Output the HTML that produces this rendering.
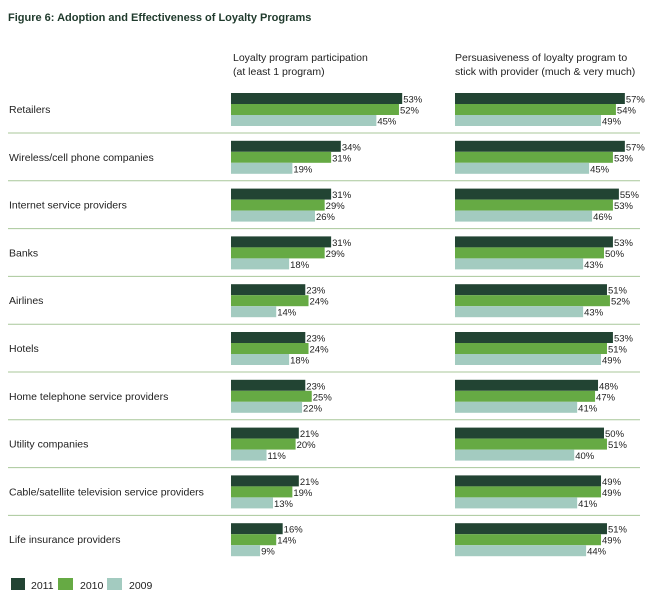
<!DOCTYPE html>
<html><head><meta charset="utf-8"><style>
body{margin:0;background:#fff;font-family:"Liberation Sans",sans-serif;}
svg text{font-family:"Liberation Sans",sans-serif;}
</style></head><body>
<svg id="c" width="648" height="596" xmlns="http://www.w3.org/2000/svg">
<text x="8" y="21" font-size="11" font-weight="bold" fill="#1f3a2c">Figure 6: Adoption and Effectiveness of Loyalty Programs</text>
<text x="233" y="61" font-size="10.5" fill="#222">Loyalty program participation</text>
<text x="233" y="75" font-size="10.5" fill="#222">(at least 1 program)</text>
<text x="455" y="61" font-size="10.5" fill="#222">Persuasiveness of loyalty program to</text>
<text x="455" y="75" font-size="10.5" fill="#222">stick with provider (much &amp; very much)</text>
<g id="bars"></g>
<g>
<rect x="11" y="578" width="14" height="12" fill="#224433"/>
<text x="31" y="589" font-size="10.5" fill="#222">2011</text>
<rect x="58" y="578" width="15" height="12" fill="#66aa44"/>
<text x="80" y="589" font-size="10.5" fill="#222">2010</text>
<rect x="107" y="578" width="15" height="12" fill="#a3cbc0"/>
<text x="129" y="589" font-size="10.5" fill="#222">2009</text>
</g>
</svg>
<script>
const categories=["Retailers","Wireless/cell phone companies","Internet service providers","Banks","Airlines","Hotels","Home telephone service providers","Utility companies","Cable/satellite television service providers","Life insurance providers"];
const part2011=[53,34,31,31,23,23,23,21,21,16];
const part2010=[52,31,29,29,24,24,25,20,19,14];
const part2009=[45,19,26,18,14,18,22,11,13,9];
const pers2011=[57,57,55,53,51,53,48,50,49,51];
const pers2010=[54,53,53,50,52,51,47,51,49,49];
const pers2009=[49,45,46,43,43,49,41,40,41,44];
const colors=["#224433","#66aa44","#a3cbc0"];
const years=["2011","2010","2009"];
const NS="http://www.w3.org/2000/svg";
const g=document.getElementById("bars");
const xL=v=>231+v*3.23, xR=v=>455+v*2.98;
const groupY=i=>93+i*47.8;
function mk(tag,attrs){const e=document.createElementNS(NS,tag);for(const k in attrs)e.setAttribute(k,attrs[k]);g.appendChild(e);return e;}
categories.forEach((cat,i)=>{
  const y0=groupY(i);
  const t=mk("text",{x:9,y:y0+20,"font-size":"10.5",fill:"#222"});
  t.textContent=cat;
  
  
  if(i<categories.length-1){
    const l=mk("line",{x1:8,x2:640,y1:y0+40,y2:y0+40,stroke:"#a8c79a","stroke-width":"1"});
    
    
  }
  const L=[part2011[i],part2010[i],part2009[i]], R=[pers2011[i],pers2010[i],pers2009[i]];
  [[L,xL,231,'participation'],[R,xR,455,'persuasiveness']].forEach(([vals,sx,x0,nm])=>{
    vals.forEach((v,k)=>{
      const y=y0+k*11;
      const r=mk("rect",{x:x0,y:y,width:sx(v)-x0,height:11,fill:colors[k]});
      
      
      const tx=mk("text",{x:sx(v)+1,y:y+9.5,"font-size":"9.5",fill:"#222"});
      tx.textContent=v+"%";
      
      
    });
  });
});
</script>
</body></html>
